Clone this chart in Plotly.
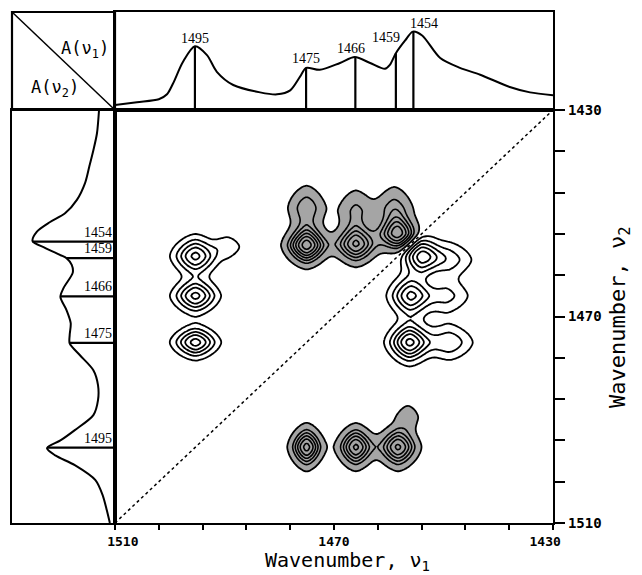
import numpy as np
import plotly.graph_objects as go

# ---------------- data ----------------
nu_min, nu_max = 1430, 1510

# 1D spectrum on top panel (wavenumber, absorbance)
top_nu = [1510, 1506, 1502, 1500.5, 1499.4, 1497.6, 1495.4, 1493.2, 1491.4, 1488.4, 1483.5,
          1480.4, 1478, 1476.2, 1475.1, 1472.6, 1468.9, 1466.2, 1463.4, 1460.7, 1459.8,
          1458.7, 1457, 1455.6, 1453.9, 1450.6, 1447, 1443.3, 1437.9, 1434.2, 1430]
top_abs = [0.05, 0.08, 0.11, 0.16, 0.27, 0.49, 0.65, 0.56, 0.39, 0.255, 0.18,
           0.16, 0.20, 0.34, 0.43, 0.41, 0.48, 0.54, 0.48, 0.42, 0.46,
           0.58, 0.71, 0.80, 0.76, 0.53, 0.43, 0.36, 0.235, 0.18, 0.15]

# 1D spectrum on left panel
left_nu = [1430, 1434.5, 1437.8, 1441, 1444.1, 1447.4, 1450, 1451.7, 1453.6, 1455.4, 1456.7,
           1458.1, 1458.7, 1460, 1461.5, 1464.5, 1466.2, 1468.8, 1471.3, 1473.6, 1475.2,
           1477.5, 1480.4, 1483.3, 1486.2, 1489.1, 1492, 1494, 1495.5, 1496.9, 1498.8,
           1501.7, 1504.6, 1507.5, 1510]
left_abs = [0.155, 0.175, 0.21, 0.25, 0.29, 0.37, 0.485, 0.63, 0.76, 0.80, 0.68,
            0.53, 0.47, 0.42, 0.41, 0.50, 0.53, 0.47, 0.43, 0.44, 0.44,
            0.34, 0.21, 0.165, 0.165, 0.21, 0.39, 0.53, 0.66, 0.58, 0.39,
            0.19, 0.12, 0.08, 0.05]

# marked peaks
peak_labels = ["1495", "1475", "1466", "1459", "1454"]
peak_nu = [1495.4, 1475.1, 1466.1, 1458.7, 1455.5]
top_peak_abs = [0.65, 0.43, 0.54, 0.58, 0.80]
left_peak_abs = [0.66, 0.44, 0.53, 0.47, 0.80]

# asynchronous cross-peak components (positive at (nu1, nu2), mirrored negative)
cp_nu1 = [1495.3, 1495.3, 1495.3, 1489.5, 1454.0, 1456.0, 1456.2, 1449.0, 1449.5, 1449.0]
cp_nu2 = [1458.3, 1466.0, 1475.0, 1456.5, 1458.3, 1466.0, 1475.0, 1459.0, 1466.0, 1475.0]
cp_amp = [0.80, 0.80, 0.82, 0.25, 0.80, 0.78, 0.95, 0.35, 0.32, 0.40]
cp_w1 = [2.4, 2.4, 2.4, 1.8, 2.2, 2.3, 2.3, 2.8, 2.8, 2.8]
cp_w2 = [2.2, 2.0, 1.8, 1.5, 2.4, 2.4, 2.3, 2.2, 2.2, 2.2]

NB = "\u00a0"
x_tick_labels = [NB * 2 + "1510", "", "", "", "", "1470", "", "", "", "", "1430" + NB * 2]
y_tick_labels = ["1430", "", "", "", "", "1470", "", "", "", "", "1510"]

# ---------------- build 2D map ----------------
grid = np.linspace(nu_min, nu_max, 201)
X, Y = np.meshgrid(grid, grid)
P = 1.6


def blob(d1, d2, w1, w2):
    r = (np.abs(d1 / w1) ** P + np.abs(d2 / w2) ** P) ** (2.0 / P)
    return np.exp(-0.5 * r)


Z = np.zeros_like(X)
for c1, c2, a, w1, w2 in zip(cp_nu1, cp_nu2, cp_amp, cp_w1, cp_w2):
    Z += a * (blob(X - c1, Y - c2, w1, w2) - blob(X - c2, Y - c1, w2, w1))
Z = np.round(Z, 4)

# ---------------- geometry (pixels -> paper) ----------------
W, H = 642, 575
OFF = 8  # page body margin
px = lambda v: (v - OFF) / W
py = lambda v: 1 - (v - OFF) / H
L0, L1, M1 = 12, 115, 553      # x pixel edges
T0, T1, B1 = 12, 110, 523      # y pixel edges

fig = go.Figure()

black_cs = [[0, "black"], [1, "black"]]

# negative region fill (shaded)
fig.add_trace(go.Contour(
    x=grid, y=grid, z=Z, xaxis="x", yaxis="y", showscale=False, hoverinfo="skip",
    contours=dict(type="constraint", operation=">", value=-0.12),
    fillcolor="rgb(165,165,165)", line=dict(color="black", width=1.8, smoothing=1)))
# negative contour lines
fig.add_trace(go.Contour(
    x=grid, y=grid, z=Z, xaxis="x", yaxis="y", showscale=False, hoverinfo="skip",
    autocontour=False, colorscale=black_cs,
    contours=dict(start=-0.90, end=-0.24, size=0.12, coloring="lines"),
    line=dict(width=1.6, smoothing=1)))
# positive contour lines
fig.add_trace(go.Contour(
    x=grid, y=grid, z=Z, xaxis="x", yaxis="y", showscale=False, hoverinfo="skip",
    autocontour=False, colorscale=black_cs,
    contours=dict(start=0.12, end=0.92, size=0.16, coloring="lines"),
    line=dict(width=1.8, smoothing=1)))

# diagonal
fig.add_trace(go.Scatter(x=[nu_max, nu_min], y=[nu_max, nu_min], mode="lines",
                         xaxis="x", yaxis="y", hoverinfo="skip",
                         line=dict(color="black", width=1.5, dash="dot")))

# top spectrum
fig.add_trace(go.Scatter(x=top_nu, y=top_abs, mode="lines", xaxis="x2", yaxis="y2",
                         line=dict(color="black", width=2, shape="spline", smoothing=0.8),
                         hoverinfo="skip"))
vx, vy = [], []
for n, a in zip(peak_nu, top_peak_abs):
    vx += [n, n, None]
    vy += [0, a, None]
fig.add_trace(go.Scatter(x=vx, y=vy, mode="lines", xaxis="x2", yaxis="y2",
                         line=dict(color="black", width=2.2), hoverinfo="skip"))

# left spectrum
fig.add_trace(go.Scatter(x=left_abs, y=left_nu, mode="lines", xaxis="x3", yaxis="y3",
                         line=dict(color="black", width=2, shape="spline", smoothing=0.8),
                         hoverinfo="skip"))
hx, hy = [], []
for n, a in zip(peak_nu, left_peak_abs):
    hx += [0, a, None]
    hy += [n, n, None]
fig.add_trace(go.Scatter(x=hx, y=hy, mode="lines", xaxis="x3", yaxis="y3",
                         line=dict(color="black", width=2.2), hoverinfo="skip"))

annotations = []
serif = dict(family="Liberation Serif", size=14, color="black")
top_dx = [0, 0, -4, -10, 11]
top_dy = [-2, 0, -1, 6, -1]
for lab, n, a, dx, dy in zip(peak_labels, peak_nu, top_peak_abs, top_dx, top_dy):
    annotations.append(dict(x=n, y=a, xref="x2", yref="y2", text=lab, showarrow=False,
                            xanchor="center", yanchor="bottom", xshift=dx, yshift=dy,
                            font=serif))
for lab, n in zip(peak_labels, peak_nu):
    annotations.append(dict(x=0, y=n, xref="x3", yref="y3", text=lab, showarrow=False,
                            xanchor="right", yanchor="bottom", xshift=-1, yshift=0,
                            font=serif))

mono = dict(family="DejaVu Sans Mono", color="black")
center = dict(xref="paper", yref="paper", showarrow=False, xanchor="center", yanchor="middle")
annotations.append(dict(x=px(85), y=py(49), text="A(ν<sub>1</sub>)",
                        font=dict(**mono, size=17), **center))
annotations.append(dict(x=px(55), y=py(89), text="A(ν<sub>2</sub>)",
                        font=dict(**mono, size=17), **center))
annotations.append(dict(x=px(347), y=py(575), text="Wavenumber, ν<sub>1</sub>",
                        xref="paper", yref="paper", showarrow=False,
                        xanchor="center", yanchor="bottom", borderpad=0,
                        font=dict(**mono, size=20)))
annotations.append(dict(x=px(619), y=py(318), text="Wavenumber, ν<sub>2</sub>", textangle=-90,
                        font=dict(**mono, size=22), **center))

tickvals = list(np.arange(nu_min, nu_max + 1, 8))
axline = dict(showline=True, linecolor="black", linewidth=2.2, mirror=True,
              showgrid=False, zeroline=False, automargin=False)
tfont = dict(family="DejaVu Sans Mono", size=14, color="black", weight="bold")
xtfont = dict(family="DejaVu Sans Mono", size=13, color="black", weight="bold")

fig.update_layout(
    template="none",
    width=W, height=H, margin=dict(l=0, r=0, t=0, b=0, pad=0, autoexpand=False),
    paper_bgcolor="white", plot_bgcolor="white", showlegend=False,
    annotations=annotations,
    xaxis=dict(domain=[px(L1), px(M1)], range=[nu_max, nu_min], anchor="y",
               tickvals=tickvals, ticktext=x_tick_labels[::-1], ticks="outside",
               ticklen=5, tickwidth=1.5, tickcolor="black", tickfont=xtfont, **axline),
    yaxis=dict(domain=[py(B1), py(T1)], range=[nu_max, nu_min], anchor="x", side="right",
               tickvals=tickvals, ticktext=y_tick_labels, ticks="outside",
               ticklen=10, tickwidth=1.5, tickcolor="black", tickfont=tfont, **axline),
    xaxis2=dict(domain=[px(L1), px(M1)], range=[nu_max, nu_min], anchor="y2",
                showticklabels=False, ticks="", **axline),
    yaxis2=dict(domain=[py(T1), py(T0)], range=[0, 1], anchor="x2",
                showticklabels=False, ticks="", **axline),
    xaxis3=dict(domain=[px(L0), px(L1)], range=[1, 0], anchor="y3",
                showticklabels=False, ticks="", **axline),
    yaxis3=dict(domain=[py(B1), py(T1)], range=[nu_max, nu_min], anchor="x3",
                showticklabels=False, ticks="", **axline),
    shapes=[
        dict(type="rect", xref="paper", yref="paper", x0=px(L0), x1=px(L1), y0=py(T1), y1=py(T0),
             line=dict(color="black", width=2.2)),
        dict(type="line", xref="paper", yref="paper", x0=px(L0), x1=px(L1), y0=py(T0), y1=py(T1),
             line=dict(color="black", width=1.5)),
    ],
)

fig.write_html("out.html")
